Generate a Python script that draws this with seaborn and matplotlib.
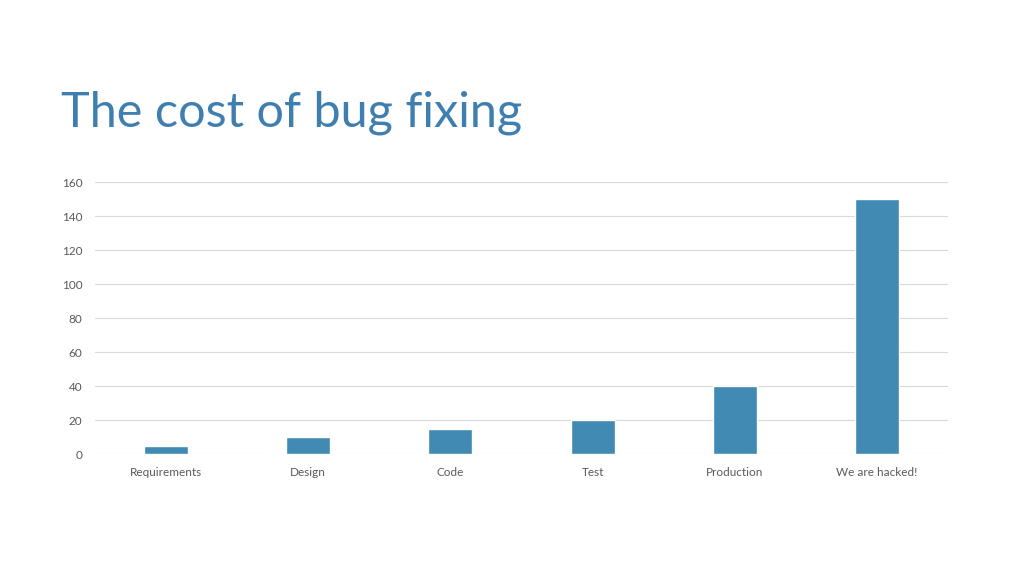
import matplotlib
matplotlib.use("Agg")
import matplotlib.pyplot as plt
import seaborn as sns
import pandas as pd

# data
stages = ["Requirements", "Design", "Code", "Test", "Production", "We are hacked!"]
costs = [5, 10, 15, 20, 40, 150]
yticks = [0, 20, 40, 60, 80, 100, 120, 140, 160]

sns.set_theme(style="white")
plt.rcParams["font.family"] = ["Lato", "DejaVu Sans"]

df = pd.DataFrame({"stage": stages, "cost": costs})

fig = plt.figure(figsize=(10.24, 5.76), dpi=100)
ax = fig.add_axes([0.0928, 0.2118, 0.8330, 0.4722])

sns.barplot(data=df, x="stage", y="cost", color="#418AB3", saturation=1,
            width=0.31, ax=ax, zorder=3)

ax.set_ylim(0, 160)
ax.set_xlim(-0.5, 5.5)
ax.set_yticks(yticks)
ax.yaxis.grid(True, color="#D9D9D9", linewidth=0.8, zorder=0)
ax.set_axisbelow(True)
ax.set_xlabel("")
ax.set_ylabel("")
sns.despine(ax=ax, left=True, bottom=True)
ax.tick_params(axis="both", length=0, labelsize=8.5, labelcolor="#595959")
ax.tick_params(axis="x", pad=9)
ax.tick_params(axis="y", pad=9)

fig.text(0.06, 0.78, "The cost of bug fixing", fontsize=35, color="#3F7FB0",
         fontweight="normal", ha="left", va="baseline")

fig.savefig("out.png", dpi=100, facecolor="white")
